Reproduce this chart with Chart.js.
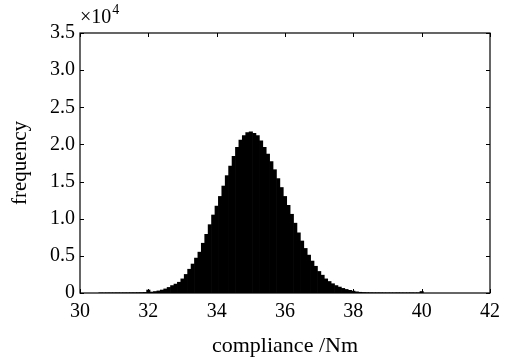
<!DOCTYPE html>
<html>
<head>
<meta charset="utf-8">
<script src="https://cdn.jsdelivr.net/npm/chart.js@4"></script>
<style>
  html, body { margin: 0; padding: 0; background: #fff; }
  #wrap { width: 510px; height: 359px; }
</style>
</head>
<body>
<div id="wrap"><canvas id="canvas" width="510" height="359"></canvas></div>
<script>
// bin centres (compliance, Nm) and counts
const binCentres = [
  30.6, 30.7, 30.8, 30.9, 31.0, 31.1, 31.2, 31.3, 31.4, 31.5, 31.6, 31.7, 31.8, 31.9,
  32.0, 32.1, 32.2, 32.3, 32.4, 32.5, 32.6, 32.7, 32.8, 32.9,
  33.0, 33.1, 33.2, 33.3, 33.4, 33.5, 33.6, 33.7, 33.8, 33.9,
  34.0, 34.1, 34.2, 34.3, 34.4, 34.5, 34.6, 34.7, 34.8, 34.9,
  35.0, 35.1, 35.2, 35.3, 35.4, 35.5, 35.6, 35.7, 35.8, 35.9,
  36.0, 36.1, 36.2, 36.3, 36.4, 36.5, 36.6, 36.7, 36.8, 36.9,
  37.0, 37.1, 37.2, 37.3, 37.4, 37.5, 37.6, 37.7, 37.8, 37.9,
  38.0, 38.1, 38.2, 38.3, 38.4, 38.5, 38.6, 38.7, 38.8, 38.9,
  39.0, 39.1, 39.2, 39.3, 39.4, 39.5, 39.6, 39.7, 39.8, 39.9, 40.0
];
const counts = [
  20, 10, 20, 20, 20, 30, 20, 30, 30, 40, 40, 50, 60, 80,
  400, 130, 200, 280, 400, 550, 750, 1000, 1200, 1450,
  1900, 2500, 3200, 3900, 4700, 5500, 6700, 7900, 9200, 10500,
  11700, 13000, 14400, 15800, 17100, 18400, 19600, 20600, 21200, 21600,
  21700, 21500, 21200, 20500, 19600, 18700, 17700, 16600, 15400, 14200,
  13000, 11800, 10600, 9400, 8100, 7000, 6000, 5100, 4300, 3600,
  2900, 2400, 1900, 1550, 1250, 1000, 800, 620, 480, 360,
  260, 160, 100, 70, 50, 40, 30, 30, 30, 20,
  20, 20, 20, 30, 20, 20, 20, 30, 20, 30, 200
];
const xTicks = [30, 32, 34, 36, 38, 40, 42];
const yTicks = [0, 5000, 10000, 15000, 20000, 25000, 30000, 35000];

const serif = "'Liberation Serif', 'DejaVu Serif', serif";

const points = binCentres.map((x, i) => ({ x: x, y: counts[i] }));

// frame + inward ticks, and the x10^4 multiplier
const framePlugin = {
  id: 'frame',
  afterDraw(chart) {
    const c = chart.ctx, a = chart.chartArea;
    const xs = chart.scales.x, ys = chart.scales.y;
    c.save();
    c.strokeStyle = '#000';
    c.lineWidth = 1.2;
    c.strokeRect(a.left, a.top, a.right - a.left, a.bottom - a.top);
    c.lineWidth = 1;
    c.beginPath();
    xTicks.forEach(v => {
      const px = Math.round(xs.getPixelForValue(v)) + 0.5;
      c.moveTo(px, a.bottom); c.lineTo(px, a.bottom - 4);
      c.moveTo(px, a.top); c.lineTo(px, a.top + 4);
    });
    yTicks.forEach(v => {
      const py = Math.round(ys.getPixelForValue(v)) + 0.5;
      c.moveTo(a.left, py); c.lineTo(a.left + 4, py);
      c.moveTo(a.right, py); c.lineTo(a.right - 4, py);
    });
    c.stroke();
    c.fillStyle = '#000';
    c.textBaseline = 'alphabetic';
    c.font = '20px ' + serif;
    c.fillText('×10', a.left, a.top - 10);
    const w = c.measureText('×10').width;
    c.font = '14px ' + serif;
    c.fillText('4', a.left + w + 1, a.top - 19);
    c.restore();
  }
};

new Chart(document.getElementById('canvas'), {
  type: 'bar',
  data: {
    datasets: [{
      data: points,
      backgroundColor: '#000',
      borderWidth: 0,
      barPercentage: 1,
      categoryPercentage: 1
    }]
  },
  options: {
    responsive: false,
    animation: false,
    layout: { padding: { left: 0, top: 33, right: 20, bottom: 0 } },
    plugins: { legend: { display: false }, tooltip: { enabled: false } },
    scales: {
      x: {
        type: 'linear',
        offset: false,
        min: 30, max: 42,
        afterFit(s) { s.height = 66; },
        afterBuildTicks(s) { s.ticks = xTicks.map(v => ({ value: v })); },
        grid: { display: false, drawTicks: false, offset: false },
        border: { display: false },
        ticks: { color: '#000', font: { family: serif, size: 20 }, padding: 7, maxRotation: 0 },
        title: { display: true, text: 'compliance /Nm', color: '#000', font: { family: serif, size: 22 }, padding: { top: 0, bottom: 0 } }
      },
      y: {
        min: 0, max: 35000,
        afterFit(s) { s.width = 80; },
        afterBuildTicks(s) { s.ticks = yTicks.map(v => ({ value: v })); },
        grid: { display: false, drawTicks: false },
        border: { display: false },
        ticks: {
          color: '#000', font: { family: serif, size: 20 }, padding: 5,
          callback: v => v === 0 ? '0' : (v / 10000).toFixed(1)
        },
        title: { display: true, text: 'frequency', color: '#000', font: { family: serif, size: 21 }, padding: { top: 8, bottom: 0 } }
      }
    }
  },
  plugins: [framePlugin]
});
</script>
</body>
</html>
